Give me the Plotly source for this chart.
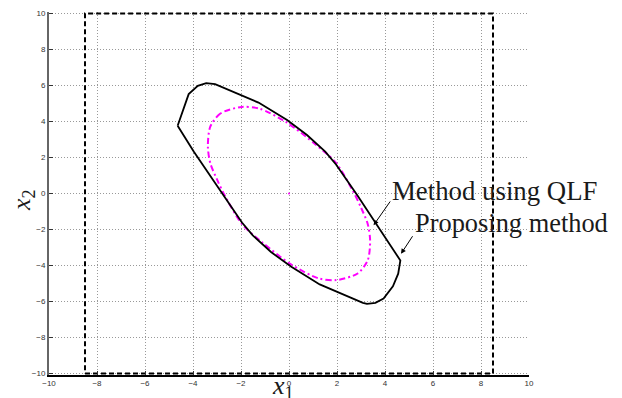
import plotly.graph_objects as go

# Proposing method: invariant polytope boundary (vertices)
prop_x = [-4.64, -4.18, -3.8, -3.45, -3.08, -1.27, -0.08, 0.75, 1.51, 1.96, 2.86, 3.97, 4.64,
          4.55, 4.33, 3.94, 3.6, 3.25, 3.08, 1.28, 0.08, -0.75, -1.51, -1.96, -2.86, -3.97, -4.64]
prop_y = [3.76, 5.52, 5.98, 6.13, 6.07, 5.05, 4.08, 3.25, 2.33, 1.61, -0.13, -2.33, -3.72,
          -4.45, -5.15, -5.83, -6.07, -6.13, -6.07, -5.05, -4.06, -3.25, -2.33, -1.61, 0.13, 2.33, 3.76]

# Method using QLF: ellipse boundary
qlf_x = [-1.96, -2.86, -3.28, -3.38, -3.28, -3.0, -2.7, -1.96, -1.12, 0.1, 1.23, 1.96,
         2.86, 3.28, 3.38, 3.28, 3.0, 2.7, 1.96, 1.12, -0.1, -1.23, -1.96]
qlf_y = [4.81, 4.44, 3.71, 2.61, 1.69, 0.78, -0.05, -1.70, -2.71, -3.95, -4.71, -4.81,
         -4.44, -3.71, -2.61, -1.69, -0.78, 0.05, 1.70, 2.71, 3.95, 4.71, 4.81]

# State constraint box
box_x = [-8.5, 8.5, 8.5, -8.5, -8.5]
box_y = [-10, -10, 10, 10, -10]

# Equilibrium point
eq_x = [0]
eq_y = [0]

tick_vals = [-10, -8, -6, -4, -2, 0, 2, 4, 6, 8, 10]

fig = go.Figure()
fig.add_trace(go.Scatter(x=box_x, y=box_y, mode="lines",
                         line=dict(color="black", width=2, dash="5px,3px"),
                         hoverinfo="skip"))
fig.add_trace(go.Scatter(x=qlf_x, y=qlf_y, mode="lines",
                         line=dict(color="#ff00ff", width=2, dash="6px,3px,2px,3px", shape="spline", smoothing=0.8)))
fig.add_trace(go.Scatter(x=prop_x, y=prop_y, mode="lines",
                         line=dict(color="black", width=1.8)))
fig.add_trace(go.Scatter(x=eq_x, y=eq_y, mode="markers",
                         marker=dict(color="#ff00ff", size=2)))

axis_common = dict(
    tickvals=tick_vals,
    ticks="inside", ticklen=4, tickcolor="#333",
    showgrid=True, gridcolor="#999", griddash="1px,2px", gridwidth=1,
    zeroline=False, showline=True,
    tickfont=dict(family="Liberation Sans, Arial", size=8, color="#333"),
)
fig.update_xaxes(range=[-10, 10], linecolor="black", linewidth=1.5, **axis_common)
fig.update_yaxes(range=[-10.08, 10.08], linecolor="#666", linewidth=2, **axis_common)

serif = "Liberation Serif, Times New Roman, serif"
annotations = [
    dict(x=4.22, y=0.16, xref="x", yref="y", text="Method using QLF", showarrow=False,
         xanchor="left", yanchor="middle", font=dict(family=serif, size=26.8, color="#1a1a1a")),
    dict(x=5.15, y=-1.63, xref="x", yref="y", text="Proposing method", showarrow=False,
         xanchor="left", yanchor="middle", font=dict(family=serif, size=26.4, color="#1a1a1a")),
    dict(x=3.525, y=-1.76, ax=4.26, ay=-0.36, xref="x", yref="y", axref="x", ayref="y",
         text="", showarrow=True, arrowhead=2, arrowsize=1, arrowwidth=1, arrowcolor="black"),
    dict(x=4.667, y=-3.35, ax=5.19, ay=-2.29, xref="x", yref="y", axref="x", ayref="y",
         text="", showarrow=True, arrowhead=2, arrowsize=1, arrowwidth=1, arrowcolor="black"),
    dict(x=0.488, y=-0.033, xref="paper", yref="paper", text="<i>x</i><sub>1</sub>",
         showarrow=False, xanchor="center", yanchor="middle",
         font=dict(family=serif, size=26, color="#1a1a1a")),
    dict(x=-0.054, y=0.482, xref="paper", yref="paper", text="<i>x</i><sub>2</sub>",
         showarrow=False, xanchor="center", yanchor="middle", textangle=-90,
         font=dict(family=serif, size=26, color="#1a1a1a")),
]

fig.update_layout(
    width=622, height=398,
    margin=dict(l=49, r=93, t=9, b=23),
    paper_bgcolor="white", plot_bgcolor="white",
    showlegend=False,
    annotations=annotations,
)

fig.write_html("out.html", config={"displayModeBar": False},
               post_script="document.body.style.margin='0';document.body.style.padding='0';")
